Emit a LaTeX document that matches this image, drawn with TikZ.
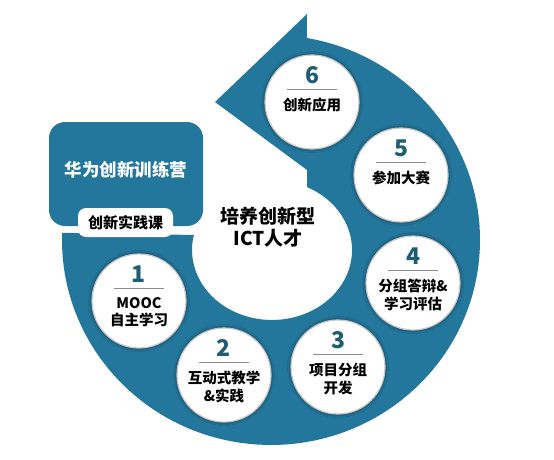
\documentclass[tikz,border=0pt]{standalone}
\usepackage{fontspec}
\setmainfont{Noto Sans CJK SC}
\usepackage{tikz}
\usetikzlibrary{
  positioning,
  calc,
  shadows.blur
}
\definecolor{RingBlue}{HTML}{23779C}
\definecolor{StepTeal}{HTML}{1F5E70}
\definecolor{RuleGray}{HTML}{8C8C8C}

\tikzset{
  stepdisk/.style={circle,fill=white,minimum size=94pt,inner sep=0pt,
    draw=black!22,line width=1.2pt,
    blur shadow={shadow xshift=0pt,shadow yshift=0pt,
      shadow blur radius=3.5pt,shadow opacity=65}},
  stepnum/.style={font=\fontsize{23}{23}\selectfont\bfseries,
    text=StepTeal,inner sep=0pt},
  steptext/.style={font=\fontsize{14.5}{17.5}\selectfont\bfseries,
    align=center,inner sep=0pt,anchor=north}
}

\begin{document}
\begin{tikzpicture}[x=1pt,y=1pt]
\useasboundingbox (0,0) rectangle (554,459);
% ring with the arrow head at the top
\fill[RingBlue] (62.13,226.2)
  arc[start angle=178,end angle=440.1,x radius=209pt,y radius=205pt]
  -- (307,445) -- (215,357) -- (307,289) -- (307,271.95)
  arc[start angle=64.06,end angle=-192.4,x radius=80pt,y radius=70pt]
  -- cycle;

% camp box and course tab
\node[fill=RingBlue,rounded corners=16pt,minimum width=154pt,
      minimum height=104pt,inner sep=0pt] (camp) at (126,285) {};
\node[text=white,font=\fontsize{17.5}{17.5}\selectfont\bfseries,inner sep=0pt]
  (campname) at ([yshift=4pt]camp.center) {华为创新训练营};
\node[fill=white,rounded corners=8pt,minimum width=95pt,minimum height=29pt,
      inner sep=0pt,font=\fontsize{15}{15}\selectfont\bfseries]
  (course) at (125.5,236.5) {创新实践课};

% centre
\node[font=\fontsize{19}{22}\selectfont\bfseries,align=center,inner sep=0pt]
  (talent) at (268,232) {培养创新型\\ICT人才};

% the six steps
\foreach \n/\px/\py/\txt in {
    1/139/158/{MOOC\\自主学习},
    2/224/84/{互动式教学\\\&实践},
    3/338/92/{项目分组\\开发},
    4/413/176/{分组答辩\&\\学习评估},
    5/401/284/{参加大赛},
    6/312/357/{创新应用}}
{
  \node[stepdisk] (step\n) at (\px,\py) {};
  \node[stepnum] (num\n) at ([yshift=27pt]step\n.center) {\n};
  \draw[RuleGray,line width=0.9pt]
    ([shift={(-25pt,13pt)}]step\n.center) -- ([shift={(25pt,13pt)}]step\n.center);
  \node[steptext] (txt\n) at ([yshift=4pt]step\n.center) {\txt};
}
\end{tikzpicture}
\end{document}
